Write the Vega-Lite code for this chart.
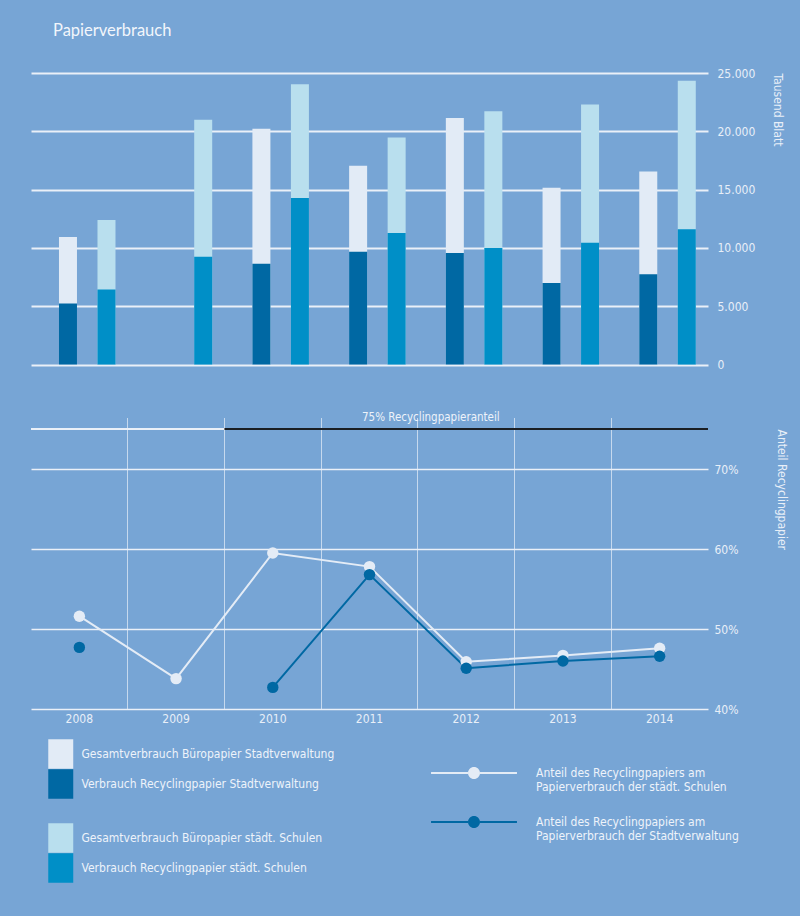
{
  "$schema": "https://vega.github.io/schema/vega-lite/v6.json",
  "width": 677,
  "height": 636,
  "autosize": {"type": "none"},
  "padding": {"left": 31, "top": 73, "right": 92, "bottom": 207},
  "background": "#77a5d5",
  "title": {"text": "Papierverbrauch", "anchor": "start", "frame": "group", "orient": "top", "offset": 15, "dx": 22, "baseline": "alphabetic", "font": "Lato", "fontSize": 16.5, "fontWeight": "normal", "color": "#f2f6fb"},
  "datasets": {
    "stadt": [
      {"jahr": "2008", "serie": "Gesamtverbrauch Büropapier Stadtverwaltung", "wert": 10930},
      {"jahr": "2008", "serie": "Verbrauch Recyclingpapier Stadtverwaltung", "wert": 5240},
      {"jahr": "2010", "serie": "Gesamtverbrauch Büropapier Stadtverwaltung", "wert": 20220},
      {"jahr": "2010", "serie": "Verbrauch Recyclingpapier Stadtverwaltung", "wert": 8650},
      {"jahr": "2011", "serie": "Gesamtverbrauch Büropapier Stadtverwaltung", "wert": 17040},
      {"jahr": "2011", "serie": "Verbrauch Recyclingpapier Stadtverwaltung", "wert": 9680},
      {"jahr": "2012", "serie": "Gesamtverbrauch Büropapier Stadtverwaltung", "wert": 21130},
      {"jahr": "2012", "serie": "Verbrauch Recyclingpapier Stadtverwaltung", "wert": 9560},
      {"jahr": "2013", "serie": "Gesamtverbrauch Büropapier Stadtverwaltung", "wert": 15150},
      {"jahr": "2013", "serie": "Verbrauch Recyclingpapier Stadtverwaltung", "wert": 6990},
      {"jahr": "2014", "serie": "Gesamtverbrauch Büropapier Stadtverwaltung", "wert": 16550},
      {"jahr": "2014", "serie": "Verbrauch Recyclingpapier Stadtverwaltung", "wert": 7730}
    ],
    "schulen": [
      {"jahr": "2008", "serie": "Gesamtverbrauch Büropapier städt. Schulen", "wert": 12400},
      {"jahr": "2008", "serie": "Verbrauch Recyclingpapier städt. Schulen", "wert": 6440},
      {"jahr": "2009", "serie": "Gesamtverbrauch Büropapier städt. Schulen", "wert": 20990},
      {"jahr": "2009", "serie": "Verbrauch Recyclingpapier städt. Schulen", "wert": 9250},
      {"jahr": "2010", "serie": "Gesamtverbrauch Büropapier städt. Schulen", "wert": 24030},
      {"jahr": "2010", "serie": "Verbrauch Recyclingpapier städt. Schulen", "wert": 14290},
      {"jahr": "2011", "serie": "Gesamtverbrauch Büropapier städt. Schulen", "wert": 19470},
      {"jahr": "2011", "serie": "Verbrauch Recyclingpapier städt. Schulen", "wert": 11280},
      {"jahr": "2012", "serie": "Gesamtverbrauch Büropapier städt. Schulen", "wert": 21730},
      {"jahr": "2012", "serie": "Verbrauch Recyclingpapier städt. Schulen", "wert": 9990},
      {"jahr": "2013", "serie": "Gesamtverbrauch Büropapier städt. Schulen", "wert": 22300},
      {"jahr": "2013", "serie": "Verbrauch Recyclingpapier städt. Schulen", "wert": 10450},
      {"jahr": "2014", "serie": "Gesamtverbrauch Büropapier städt. Schulen", "wert": 24340},
      {"jahr": "2014", "serie": "Verbrauch Recyclingpapier städt. Schulen", "wert": 11600}
    ],
    "anteil": [
      {"jahr": "2008", "serie": "Anteil des Recyclingpapiers am Papierverbrauch der städt. Schulen", "wert": 51.6},
      {"jahr": "2009", "serie": "Anteil des Recyclingpapiers am Papierverbrauch der städt. Schulen", "wert": 43.8},
      {"jahr": "2010", "serie": "Anteil des Recyclingpapiers am Papierverbrauch der städt. Schulen", "wert": 59.5},
      {"jahr": "2011", "serie": "Anteil des Recyclingpapiers am Papierverbrauch der städt. Schulen", "wert": 57.8},
      {"jahr": "2012", "serie": "Anteil des Recyclingpapiers am Papierverbrauch der städt. Schulen", "wert": 45.9},
      {"jahr": "2013", "serie": "Anteil des Recyclingpapiers am Papierverbrauch der städt. Schulen", "wert": 46.7},
      {"jahr": "2014", "serie": "Anteil des Recyclingpapiers am Papierverbrauch der städt. Schulen", "wert": 47.6},
      {"jahr": "2008", "serie": "Anteil des Recyclingpapiers am Papierverbrauch der Stadtverwaltung", "wert": 47.7},
      {"jahr": "2009", "serie": "Anteil des Recyclingpapiers am Papierverbrauch der Stadtverwaltung", "wert": null},
      {"jahr": "2010", "serie": "Anteil des Recyclingpapiers am Papierverbrauch der Stadtverwaltung", "wert": 42.7},
      {"jahr": "2011", "serie": "Anteil des Recyclingpapiers am Papierverbrauch der Stadtverwaltung", "wert": 56.8},
      {"jahr": "2012", "serie": "Anteil des Recyclingpapiers am Papierverbrauch der Stadtverwaltung", "wert": 45.1},
      {"jahr": "2013", "serie": "Anteil des Recyclingpapiers am Papierverbrauch der Stadtverwaltung", "wert": 46.0},
      {"jahr": "2014", "serie": "Anteil des Recyclingpapiers am Papierverbrauch der Stadtverwaltung", "wert": 46.6}
    ]
  },
  "layer": [
    {
      "layer": [
        {
          "data": {"name": "stadt"},
          "mark": {"type": "bar"},
          "encoding": {
            "x": {"field": "jahr", "type": "ordinal", "title": null,
              "scale": {"domain": ["2008", "2009", "2010", "2011", "2012", "2013", "2014"], "paddingInner": 0, "paddingOuter": 0},
              "axis": {"bandPosition": 0, "grid": true, "gridColor": "#d3e2f2", "gridWidth": 1, "gridOpacity": {"condition": {"test": "datum.value === '2008'", "value": 0}, "value": 0.85}, "labelPadding": 4, "labelAngle": 0, "title": null}},
            "xOffset": {"datum": "Stadtverwaltung", "scale": {"domain": ["Stadtverwaltung", "Schulen"], "paddingInner": 0.5325, "paddingOuter": 0.522, "align": 0.696}},
            "y": {"field": "wert", "type": "quantitative", "stack": null,
              "scale": {"domain": [0, 25000], "range": [291.5, 0], "nice": false},
              "axis": {"orient": "right", "values": [0, 5000, 10000, 15000, 20000, 25000], "grid": true, "gridColor": "#eaf0f8", "gridWidth": 2, "labelPadding": 9, "labelExpr": "replace(format(datum.value, ','), ',', '.')", "title": "Tausend Blatt", "titleAngle": 90, "titleAnchor": "end", "titleAlign": "left", "titlePadding": 16}},
            "color": {"field": "serie", "type": "nominal",
              "scale": {"domain": ["Gesamtverbrauch Büropapier Stadtverwaltung", "Verbrauch Recyclingpapier Stadtverwaltung"], "range": ["#e2ebf6", "#0068a3"]},
              "legend": {"orient": "none", "legendX": 14.75, "legendY": 666, "title": null, "symbolType": "M-0.847,-1H0.847V1H-0.847Z", "symbolSize": 870, "symbolStrokeWidth": 0, "rowPadding": 0, "labelOffset": 5.75}}
          }
        },
        {
          "data": {"name": "schulen"},
          "mark": {"type": "bar"},
          "encoding": {
            "x": {"field": "jahr", "type": "ordinal", "title": null,
              "axis": {"bandPosition": 0, "grid": true, "gridColor": "#d3e2f2", "gridWidth": 1, "gridOpacity": {"condition": {"test": "datum.value === '2008'", "value": 0}, "value": 0.85}, "labelPadding": 4, "labelAngle": 0, "title": null}},
            "xOffset": {"datum": "Schulen"},
            "y": {"field": "wert", "type": "quantitative", "stack": null,
              "axis": {"orient": "right", "values": [0, 5000, 10000, 15000, 20000, 25000], "grid": true, "gridColor": "#eaf0f8", "gridWidth": 2, "labelPadding": 9, "labelExpr": "replace(format(datum.value, ','), ',', '.')", "title": "Tausend Blatt", "titleAngle": 90, "titleAnchor": "end", "titleAlign": "left", "titlePadding": 16}},
            "color": {"field": "serie", "type": "nominal",
              "scale": {"domain": ["Gesamtverbrauch Büropapier städt. Schulen", "Verbrauch Recyclingpapier städt. Schulen"], "range": ["#b9dfee", "#008fc7"]},
              "legend": {"orient": "none", "legendX": 14.75, "legendY": 750, "title": null, "symbolType": "M-0.847,-1H0.847V1H-0.847Z", "symbolSize": 870, "symbolStrokeWidth": 0, "rowPadding": 0, "labelOffset": 5.75}}
          }
        }
      ],
      "resolve": {"scale": {"color": "independent"}, "legend": {"color": "independent"}}
    },
    {
      "layer": [
        {
          "data": {"values": [{}]},
          "mark": {"type": "rule", "color": "#eaf0f8", "strokeWidth": 2},
          "encoding": {"y": {"datum": 75, "type": "quantitative"}}
        },
        {
          "data": {"values": [{}]},
          "mark": {"type": "rule", "color": "#1b1f24", "strokeWidth": 2},
          "encoding": {
            "x": {"datum": "2010", "type": "ordinal", "bandPosition": 0},
            "x2": {"value": "width"},
            "y": {"datum": 75, "type": "quantitative"}
          }
        },
        {
          "data": {"values": [{"t": "75% Recyclingpapieranteil"}]},
          "mark": {"type": "text", "dx": 13, "dy": -11, "align": "center", "baseline": "middle", "fontSize": 11.5, "color": "#eef3fa"},
          "encoding": {
            "x": {"datum": "2012", "type": "ordinal", "bandPosition": 0},
            "y": {"datum": 75, "type": "quantitative"},
            "text": {"field": "t"}
          }
        },
        {
          "data": {"name": "anteil"},
          "mark": {"type": "line", "strokeWidth": 2},
          "encoding": {
            "x": {"field": "jahr", "type": "ordinal", "title": null},
            "y": {"field": "wert", "type": "quantitative",
              "scale": {"domain": [40, 75], "range": [636, 356], "nice": false, "zero": false},
              "axis": {"orient": "right", "values": [40, 50, 60, 70], "grid": true, "gridColor": "#eaf0f8", "gridWidth": 1.5, "labelPadding": 6, "labelExpr": "datum.value + '%'", "title": "Anteil Recyclingpapier", "titleAngle": 90, "titleAnchor": "end", "titleAlign": "left", "titlePadding": 37}},
            "color": {"field": "serie", "type": "nominal",
              "scale": {"domain": ["Anteil des Recyclingpapiers am Papierverbrauch der städt. Schulen", "Anteil des Recyclingpapiers am Papierverbrauch der Stadtverwaltung"], "range": ["#e4ecf6", "#0068a3"]}}
          }
        },
        {
          "data": {"name": "anteil"},
          "mark": {"type": "point", "filled": true, "size": 130, "opacity": 1},
          "encoding": {
            "x": {"field": "jahr", "type": "ordinal", "title": null},
            "y": {"field": "wert", "type": "quantitative",
              "axis": {"orient": "right", "values": [40, 50, 60, 70], "grid": true, "gridColor": "#eaf0f8", "gridWidth": 1.5, "labelPadding": 6, "labelExpr": "datum.value + '%'", "title": "Anteil Recyclingpapier", "titleAngle": 90, "titleAnchor": "end", "titleAlign": "left", "titlePadding": 37}},
            "color": {"field": "serie", "type": "nominal",
              "legend": {"orient": "none", "legendX": 431, "legendY": 688, "title": null, "symbolType": "M-3.58,-0.083H-0.5V0.083H-3.58Z M0.5,-0.083H3.58V0.083H0.5Z M0.5,0A0.5,0.5 0 1,1 -0.5,0A0.5,0.5 0 1,1 0.5,0Z", "symbolSize": 576, "symbolStrokeWidth": 0, "symbolOpacity": 1, "rowPadding": 17, "labelOffset": 50, "labelExpr": "[slice(datum.label, 0, 30), slice(datum.label, 31)]"}}
          }
        }
      ]
    }
  ],
  "resolve": {"scale": {"y": "independent", "color": "independent"}, "axis": {"y": "independent"}, "legend": {"color": "independent"}},
  "config": {
    "view": {"stroke": null},
    "axis": {"labelFont": "DejaVu Sans Condensed", "titleFont": "DejaVu Sans Condensed", "labelColor": "#e8eff8", "titleColor": "#e8eff8", "labelFontSize": 12, "titleFontSize": 12, "titleFontWeight": "normal", "domain": false, "ticks": false},
    "legend": {"labelFont": "DejaVu Sans Condensed", "labelColor": "#eef3fa", "labelFontSize": 12, "labelLimit": 400, "padding": 0},
    "text": {"font": "DejaVu Sans Condensed"}
  }
}
